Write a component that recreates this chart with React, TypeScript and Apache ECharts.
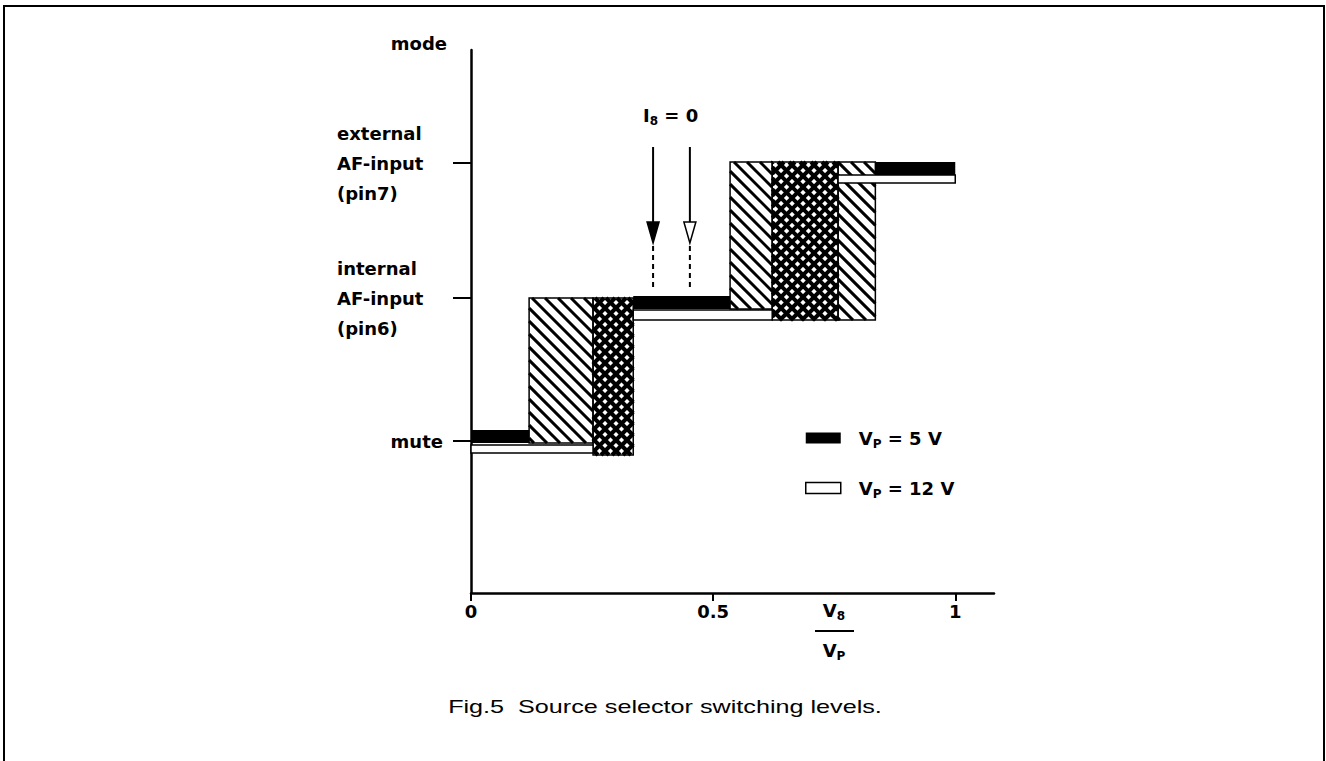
import React, { useEffect, useRef } from "react";
import * as echarts from "echarts";

// ---- data (axis units: x = VS/VP ratio, y = mode scale) ----
const modeLevels = [152, 295, 430];
const modeLabels = ["mute", "internal\nAF-input\n(pin6)", "external\nAF-input\n(pin7)"];
const xTickValues = [0, 0.5, 1];

// [xStart, xEnd, yLow, yHigh]
const vp5Segments = [
  [0, 0.12, 150, 163],
  [0.335, 0.535, 284, 297],
  [0.835, 1.0, 418, 431],
];
const vp12Segments = [
  [0, 0.252, 140, 148],
  [0.335, 0.622, 273, 283],
  [0.758, 1.0, 410, 418],
];
const hatchZones = [
  [0.12, 0.252, 150, 295],
  [0.535, 0.622, 284, 431],
  [0.758, 0.835, 273, 431],
];
const crossZones = [
  [0.252, 0.335, 138, 295],
  [0.622, 0.758, 273, 431],
];
const arrowPositions = [0.376, 0.452];
const arrowLevels = [446, 371, 350, 305]; // top, head base, tip, dashed end

const BOLD = '"DejaVu Sans", "Liberation Sans", sans-serif';

function hatchLines(x0: number, y0: number, x1: number, y1: number, dir: number, step: number, lw: number) {
  const out: any[] = [];
  const st = { stroke: "#000", lineWidth: lw };
  if (dir > 0) {
    const cs = Math.ceil((y0 - x1) / step) * step;
    for (let c = cs; c <= y1 - x0; c += step) {
      const xa = Math.max(x0, y0 - c);
      const xb = Math.min(x1, y1 - c);
      if (xb > xa + 0.5) out.push({ type: "line", shape: { x1: xa, y1: xa + c, x2: xb, y2: xb + c }, style: st });
    }
  } else {
    const cs = Math.ceil((x0 + y0) / step) * step;
    for (let c = cs; c <= x1 + y1; c += step) {
      const xa = Math.max(x0, c - y1);
      const xb = Math.min(x1, c - y0);
      if (xb > xa + 0.5) out.push({ type: "line", shape: { x1: xa, y1: c - xa, x2: xb, y2: c - xb }, style: st });
    }
  }
  return out;
}

function zoneRenderer(cross: boolean) {
  return (params: any, api: any) => {
    const p0 = api.coord([api.value(0), api.value(3)]);
    const p1 = api.coord([api.value(1), api.value(2)]);
    const x0 = p0[0], y0 = p0[1], x1 = p1[0], y1 = p1[1];
    let children: any[] = [];
    if (cross) {
      children = children.concat(hatchLines(x0, y0, x1, y1, 1, 11, 4));
      children = children.concat(hatchLines(x0, y0, x1, y1, -1, 11, 4));
    } else {
      children = children.concat(hatchLines(x0, y0, x1, y1, 1, 13, 3));
    }
    children.push({
      type: "rect",
      shape: { x: x0, y: y0, width: x1 - x0, height: y1 - y0 },
      style: { fill: "none", stroke: "#000", lineWidth: 1.5 },
    });
    return { type: "group", children };
  };
}

function bandRenderer(fill: string) {
  return (params: any, api: any) => {
    const p0 = api.coord([api.value(0), api.value(3)]);
    const p1 = api.coord([api.value(1), api.value(2)]);
    return {
      type: "rect",
      shape: { x: p0[0], y: p0[1], width: p1[0] - p0[0], height: p1[1] - p0[1] },
      style: { fill, stroke: "#000", lineWidth: fill === "#000" ? 0 : 1.5 },
    };
  };
}

function arrowRenderer(params: any, api: any) {
  const x = api.value(0);
  const top = api.coord([x, api.value(1)]);
  const base = api.coord([x, api.value(2)]);
  const tip = api.coord([x, api.value(3)]);
  const end = api.coord([x, api.value(4)]);
  const solid = params.dataIndex === 0;
  const hw = 6;
  return {
    type: "group",
    children: [
      { type: "line", shape: { x1: top[0], y1: top[1], x2: base[0], y2: base[1] }, style: { stroke: "#000", lineWidth: 2 } },
      {
        type: "polygon",
        shape: { points: [[base[0] - hw, base[1]], [base[0] + hw, base[1]], [tip[0], tip[1]]] },
        style: { fill: solid ? "#000" : "#fff", stroke: "#000", lineWidth: 1.5 },
      },
      {
        type: "line",
        shape: { x1: tip[0], y1: tip[1] + 3, x2: end[0], y2: end[1] },
        style: { stroke: "#000", lineWidth: 2, lineDash: [5, 4] },
      },
    ],
  };
}

const subRich = {
  v: { fontFamily: BOLD, fontWeight: "bold", fontSize: 18, lineHeight: 24, color: "#000" },
  s: { fontFamily: BOLD, fontWeight: "bold", fontSize: 12, lineHeight: 12, verticalAlign: "bottom", color: "#000" },
};

export default function App() {
  const ref = useRef<HTMLDivElement>(null);
  useEffect(() => {
    if (!ref.current) return;
    const chart = echarts.init(ref.current, undefined, { renderer: "svg" });
    const option: any = {
      animation: false,
      backgroundColor: "#fff",
      grid: { left: 471, top: 50, width: 523, height: 543 },
      xAxis: {
        type: "value",
        min: 0,
        max: 1.08,
        axisLine: { show: true, lineStyle: { color: "#000", width: 2.5 } },
        axisTick: { show: true, customValues: xTickValues, length: 8, lineStyle: { color: "#000", width: 2 } },
        axisLabel: {
          customValues: xTickValues,
          formatter: (v: number) => String(v),
          margin: 9,
          color: "#000",
          fontFamily: BOLD,
          fontWeight: "bold",
          fontSize: 18,
        },
        splitLine: { show: false },
      },
      yAxis: {
        type: "value",
        min: 0,
        max: 543,
        name: "mode",
        nameLocation: "end",
        nameGap: 7,
        nameTextStyle: {
          align: "right",
          verticalAlign: "middle",
          padding: [0, 24, 0, 0],
          color: "#000",
          fontFamily: BOLD,
          fontWeight: "bold",
          fontSize: 18,
        },
        axisLine: { show: true, lineStyle: { color: "#000", width: 2.5 } },
        axisTick: { show: true, customValues: modeLevels, length: 18, lineStyle: { color: "#000", width: 2 } },
        axisLabel: {
          customValues: modeLevels,
          margin: 28,
          align: "right",
          formatter: (v: number) => {
            const i = modeLevels.indexOf(v);
            const t = modeLabels[i] || "";
            return i === 0 ? `{n|${t}}` : `{m|${t}}`;
          },
          rich: {
            n: { fontFamily: BOLD, fontWeight: "bold", fontSize: 18, color: "#000" },
            m: { fontFamily: BOLD, fontWeight: "bold", fontSize: 18, lineHeight: 30, width: 106, align: "left", color: "#000" },
          },
        },
        splitLine: { show: false },
      },
      legend: {
        orient: "vertical",
        left: 805,
        top: 429,
        padding: 0,
        itemWidth: 35,
        itemHeight: 11,
        itemGap: 29,
        selectedMode: false,
        icon: "rect",
        data: [
          { name: "5 V", itemStyle: { color: "#000", borderWidth: 0 } },
          { name: "12 V", itemStyle: { color: "#fff", borderColor: "#000", borderWidth: 1.5 } },
        ],
        formatter: (n: string) => `{v|V}{s|P}{v| = ${n}}`,
        textStyle: { padding: [0, 0, 0, 13], rich: subRich },
      },
      graphic: [
        {
          type: "rect",
          shape: { x: 4, y: 6, width: 1320, height: 800 },
          style: { fill: "none", stroke: "#000", lineWidth: 2 },
          silent: true,
        },
        {
          type: "text",
          x: 643,
          y: 115,
          style: { text: "{v|I}{s|8}{v| = 0}", rich: subRich, align: "left", verticalAlign: "middle", textAlign: "left", textVerticalAlign: "middle" },
        },
        {
          type: "text",
          x: 834,
          y: 610,
          style: { text: "{v|V}{s|8}", rich: subRich, align: "center", verticalAlign: "middle", textAlign: "center", textVerticalAlign: "middle" },
        },
        {
          type: "line",
          shape: { x1: 815, y1: 631, x2: 854, y2: 631 },
          style: { stroke: "#000", lineWidth: 2 },
        },
        {
          type: "text",
          x: 834,
          y: 650,
          style: { text: "{v|V}{s|P}", rich: subRich, align: "center", verticalAlign: "middle", textAlign: "center", textVerticalAlign: "middle" },
        },
        {
          type: "text",
          x: 665,
          y: 707,
          scaleX: 1.4,
          style: {
            text: "Fig.5  Source selector switching levels.",
            font: '18px "Liberation Sans", Arial, sans-serif',
            fill: "#000",
            align: "center",
            verticalAlign: "middle",
            textAlign: "center",
            textVerticalAlign: "middle",
          },
        },
      ],
      series: [
        {
          type: "custom",
          name: "diag",
          renderItem: zoneRenderer(false),
          data: hatchZones,
          encode: { x: [0, 1], y: [2, 3] },
          clip: false,
          z: 2,
        },
        {
          type: "custom",
          name: "cross",
          renderItem: zoneRenderer(true),
          data: crossZones,
          encode: { x: [0, 1], y: [2, 3] },
          clip: false,
          z: 2,
        },
        {
          type: "custom",
          name: "12 V",
          renderItem: bandRenderer("#fff"),
          data: vp12Segments,
          encode: { x: [0, 1], y: [2, 3] },
          itemStyle: { color: "#fff", borderColor: "#000" },
          clip: false,
          z: 3,
        },
        {
          type: "custom",
          name: "5 V",
          renderItem: bandRenderer("#000"),
          data: vp5Segments,
          encode: { x: [0, 1], y: [2, 3] },
          itemStyle: { color: "#000" },
          clip: false,
          z: 4,
        },
        {
          type: "custom",
          name: "arrows",
          renderItem: arrowRenderer,
          data: arrowPositions.map((x) => [x, ...arrowLevels]),
          encode: { x: 0, y: [1, 2, 3, 4] },
          clip: false,
          z: 5,
        },
      ],
    };
    chart.setOption(option);
    return () => chart.dispose();
  }, []);
  return (
    <div
      ref={ref}
      style={{ position: "absolute", left: 0, top: 0, width: 1326, height: 761, background: "#fff" }}
    />
  );
}
